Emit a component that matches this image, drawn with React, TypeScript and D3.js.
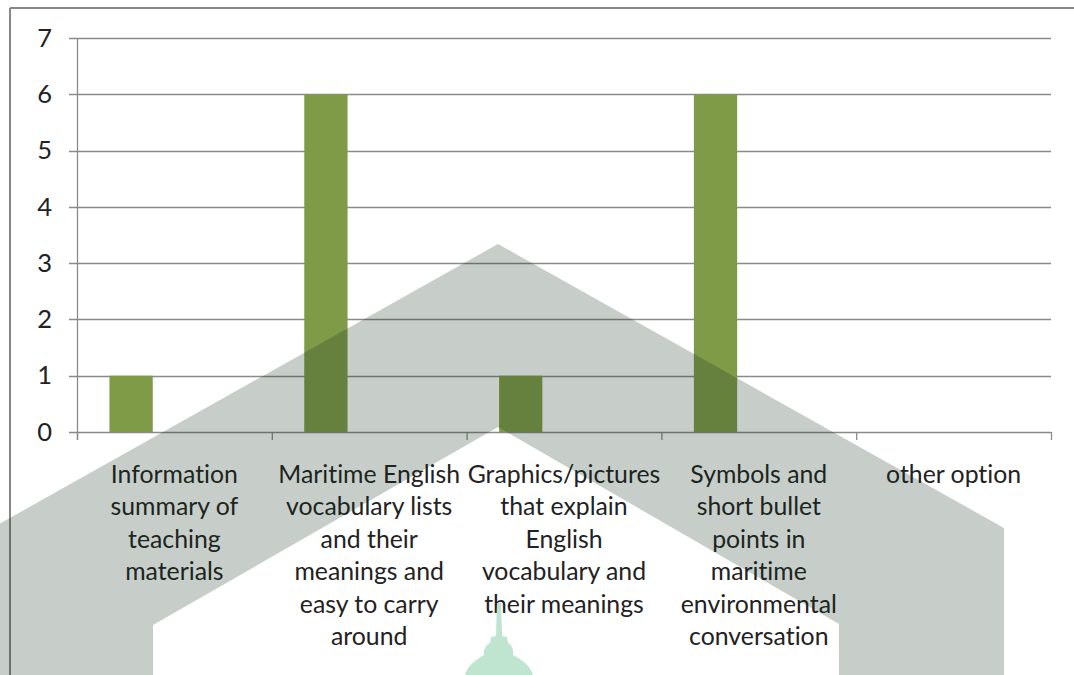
import React from "react";
import * as d3 from "d3";

// Survey responses: preferred form of supplementary learning material
const categories = [
  "Information summary of teaching materials",
  "Maritime English vocabulary lists and their meanings and easy to carry around",
  "Graphics/pictures that explain English vocabulary and their meanings",
  "Symbols and short bullet points in maritime environmental conversation",
  "other option",
];

// Category labels as they wrap under the axis
const categoryLines = [
  ["Information", "summary of", "teaching", "materials"],
  ["Maritime English", "vocabulary lists", "and their", "meanings and", "easy to carry", "around"],
  ["Graphics/pictures", "that explain", "English", "vocabulary and", "their meanings"],
  ["Symbols and", "short bullet", "points in", "maritime", "environmental", "conversation"],
  ["other option"],
];

const responses = [1, 6, 1, 6, 0];

const yTicks = [0, 1, 2, 3, 4, 5, 6, 7];

const W = 1074;
const H = 675;
const FONT = "Lato, 'Open Sans', sans-serif";

export default function App() {
  const plotLeft = 77;
  const plotRight = 1051;
  const plotTop = 38;
  const plotBottom = 432;

  const x = d3.scaleBand<string>().domain(categories).range([plotLeft, plotRight]).padding(0);
  // clustered layout: three slots per category, gap = 150% of a bar
  const slot = d3
    .scaleBand<number>()
    .domain([0, 1, 2])
    .range([0, x.bandwidth()])
    .paddingInner(0)
    .paddingOuter(0.75);
  const y = d3.scaleLinear().domain([0, 7]).range([plotBottom, plotTop]);

  const boundaries = categories.map((c) => x(c)!).concat([plotRight]);

  // watermark: house-shaped band
  const apexX = 498;
  const outer = [
    [-8, 528],
    [apexX, 244],
    [1004, 528],
    [1004, H],
    [839, H],
    [839, 624],
    [apexX, 427],
    [153, 625],
    [153, H],
    [-8, H],
  ];
  const housePath = d3.line()(outer as [number, number][]) + "Z";

  const towerPath = [
    "M497,603 L501,603 L502,636 L507,637 L508,643",
    "C512,645 514,650 513,655",
    "C520,659 530,664 533,675",
    "L465,675",
    "C468,664 478,659 484,655",
    "C483,650 486,645 490,643",
    "L491,637 L496,636 Z",
  ].join(" ");

  const lineStep = 32.4;
  const firstBaseline = 483;
  const textStyle = { fontVariantLigatures: "none" as const };

  return (
    <svg
      width={W}
      height={H}
      style={{ position: "absolute", left: 0, top: 0, background: "#fff" }}
      fontFamily={FONT}
    >
      <rect x={0} y={0} width={W} height={H} fill="#fff" />
      {/* chart frame */}
      <line x1={10} x2={W} y1={8} y2={8} stroke="#878787" strokeWidth={2} />
      <line x1={10} x2={10} y1={8} y2={H} stroke="#878787" strokeWidth={2} />

      {/* gridlines and y ticks */}
      {yTicks.map((t) => (
        <g key={t}>
          <line
            x1={plotLeft - 8}
            x2={plotRight}
            y1={Math.round(y(t)) + 0.5}
            y2={Math.round(y(t)) + 0.5}
            stroke="#8a8a8a"
            strokeWidth={1.3}
          />
          <text
            x={52}
            y={y(t)}
            dy="0.34em"
            textAnchor="end"
            fontSize={25.5}
            fill="#222"
            style={textStyle}
          >
            {t}
          </text>
        </g>
      ))}

      {/* axes */}
      <line x1={plotLeft + 0.5} x2={plotLeft + 0.5} y1={plotTop} y2={plotBottom + 8} stroke="#8a8a8a" strokeWidth={1.3} />
      {boundaries.map((b, i) => (
        <line key={i} x1={b + 0.5} x2={b + 0.5} y1={plotBottom} y2={plotBottom + 8} stroke="#8a8a8a" strokeWidth={1.3} />
      ))}

      {/* bars */}
      {categories.map((c, i) =>
        responses[i] > 0 ? (
          <rect
            key={c}
            x={x(c)! + slot(0)!}
            y={y(responses[i])}
            width={slot.bandwidth()}
            height={y(0) - y(responses[i])}
            fill="#7f9b48"
          />
        ) : null
      )}

      {/* category labels */}
      {categories.map((c, i) => (
        <text
          key={c}
          x={x(c)! + x.bandwidth() / 2}
          y={firstBaseline}
          textAnchor="middle"
          fontSize={24.8}
          fill="#222"
          style={textStyle}
        >
          {categoryLines[i].map((ln, j) => (
            <tspan key={j} x={x(c)! + x.bandwidth() / 2} y={firstBaseline + j * lineStep}>
              {ln}
            </tspan>
          ))}
        </text>
      ))}

      {/* watermark */}
      <path d={housePath} fill="rgb(17,48,26)" fillOpacity={0.235} />
      <path d={towerPath} fill="#bfe4d0" />
    </svg>
  );
}
